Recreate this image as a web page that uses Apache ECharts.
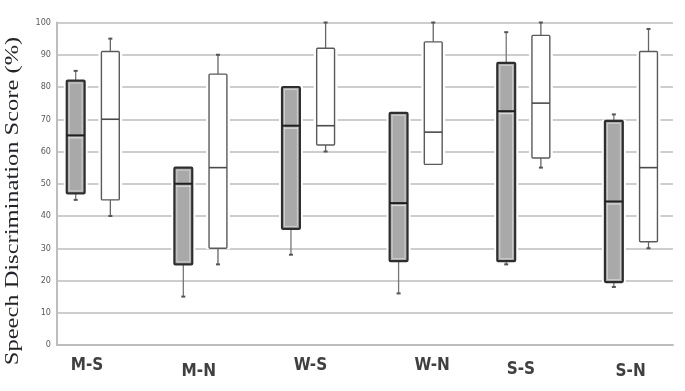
<!DOCTYPE html>
<html>
<head>
<meta charset="utf-8">
<script src="https://cdn.jsdelivr.net/npm/echarts@6/dist/echarts.min.js"></script>
<style>html,body{margin:0;padding:0;background:#fff}#c{width:685px;height:391px}</style>
</head>
<body>
<div id="c"></div>
<script>
var categories = ['M-S', 'M-N', 'W-S', 'W-N', 'S-S', 'S-N'];
// [min, Q1, median, Q3, max] per category
var grayStats = [
  [45, 47, 65, 82, 85],
  [15, 25, 50, 55, 55],
  [28, 36, 68, 80, 80],
  [16, 26, 44, 72, 72],
  [25, 26, 72.5, 87.5, 97],
  [18, 19.5, 44.5, 69.5, 71.5]
];
var whiteStats = [
  [40, 45, 70, 91, 95],
  [25, 30, 55, 84, 90],
  [60, 62, 68, 92, 100],
  [56, 56, 66, 94, 100],
  [55, 58, 75, 96, 100],
  [30, 32, 55, 91, 98]
];
var yTicks = [0, 10, 20, 30, 40, 50, 60, 70, 80, 90, 100];
var yTitle = 'Speech Discrimination Score (%)';

// per-label nudges (dx, dy) in px to mimic hand placement
var labelNudge = [[0, 0], [3, 3], [6, 0], [19, -1], [-1, 2], [0, 3]];

function toData(stats) {
  return categories.map(function (c, i) { return [i].concat(stats[i]); });
}

function makeRender(side, filled) {
  return function (params, api) {
    var cat = api.value(0);
    var band = api.size([1, 0])[0];
    var cx = api.coord([cat, 0])[0] + side * band * 0.161;
    var w = band * 0.166;
    var x0 = cx - w / 2;
    var yMin = api.coord([cat, api.value(1)])[1];
    var yQ1 = api.coord([cat, api.value(2)])[1];
    var yMed = api.coord([cat, api.value(3)])[1];
    var yQ3 = api.coord([cat, api.value(4)])[1];
    var yMax = api.coord([cat, api.value(5)])[1];
    var wc = filled ? '#777' : '#666';
    var ch = [];
    ch.push({type: 'rect', shape: {x: x0 - 3, y: yQ3 - 1, width: w + 6, height: yQ1 - yQ3 + 2}, style: {fill: '#fff'}});
    if (yMax < yQ3 - 0.5) {
      ch.push({type: 'line', shape: {x1: cx, y1: yQ3, x2: cx, y2: yMax}, style: {stroke: wc, lineWidth: 1.3}});
      ch.push({type: 'line', shape: {x1: cx - 2, y1: yMax, x2: cx + 2, y2: yMax}, style: {stroke: '#555', lineWidth: 2}});
    }
    if (yMin > yQ1 + 0.5) {
      ch.push({type: 'line', shape: {x1: cx, y1: yQ1, x2: cx, y2: yMin}, style: {stroke: wc, lineWidth: 1.3}});
      ch.push({type: 'line', shape: {x1: cx - 2, y1: yMin, x2: cx + 2, y2: yMin}, style: {stroke: '#555', lineWidth: 2}});
    }
    if (filled) {
      ch.push({type: 'rect', shape: {x: x0, y: yQ3, width: w, height: yQ1 - yQ3, r: 1}, style: {fill: '#a9a9a9', stroke: '#2e2e2e', lineWidth: 2.2}});
      ch.push({type: 'rect', shape: {x: x0 + 2.5, y: yQ3 + 2.5, width: w - 5, height: yQ1 - yQ3 - 5}, style: {fill: 'none', stroke: '#d8d8d8', lineWidth: 0.8}});
      ch.push({type: 'line', shape: {x1: x0, y1: yMed, x2: x0 + w, y2: yMed}, style: {stroke: '#1e1e1e', lineWidth: 2}});
      ch.push({type: 'line', shape: {x1: x0 + 2, y1: yMed + 2.5, x2: x0 + w - 2, y2: yMed + 2.5}, style: {stroke: '#e4e4e4', lineWidth: 1}});
    } else {
      ch.push({type: 'rect', shape: {x: x0, y: yQ3, width: w, height: yQ1 - yQ3, r: 1}, style: {fill: '#fff', stroke: '#5a5a5a', lineWidth: 1.4}});
      ch.push({type: 'line', shape: {x1: x0, y1: yMed, x2: x0 + w, y2: yMed}, style: {stroke: '#4a4a4a', lineWidth: 1.6}});
    }
    return {type: 'group', children: ch};
  };
}

var rich = {};
labelNudge.forEach(function (n, i) {
  var dx = n[0], dy = n[1];
  rich['l' + i] = {
    fontFamily: 'Liberation Sans Narrow, DejaVu Sans Condensed, Arial Narrow, sans-serif',
    fontWeight: 'bold', fontSize: 17, color: '#404040',
    padding: [Math.max(0, 2 * dy), Math.max(0, -2 * dx), Math.max(0, -2 * dy), Math.max(0, 2 * dx)]
  };
});

var chart = echarts.init(document.getElementById('c'), null, {renderer: 'canvas'});
chart.setOption({
  animation: false,
  backgroundColor: '#fff',
  graphic: [{
    type: 'text', x: 13, y: 201, rotation: Math.PI / 2, scaleX: 1.36,
    style: {text: yTitle, font: '18px "Liberation Serif", serif', fill: '#23232b', align: 'center', verticalAlign: 'middle'}
  }],
  grid: [
    {left: 57, right: 12, top: 22.5, bottom: 46},
    {left: 39.2, right: -5.8, top: 22.5, bottom: 46},
    {left: 32.7, right: -11.3, top: 22.5, bottom: 46}
  ],
  xAxis: [
    {gridIndex: 0, type: 'category', data: categories, axisLine: {show: true, lineStyle: {color: '#bdbdbd', width: 2}}, axisTick: {show: false}, axisLabel: {show: false}, splitLine: {show: false}},
    {gridIndex: 1, type: 'category', data: categories, show: false},
    {gridIndex: 2, type: 'category', data: categories, axisLine: {show: false}, axisTick: {show: false}, splitLine: {show: false},
      axisLabel: {margin: 12, interval: 0, rich: rich, formatter: function (v, i) { return '{l' + i + '|' + v + '}'; }}}
  ],
  yAxis: [
    {gridIndex: 0, type: 'value', min: yTicks[0], max: yTicks[yTicks.length - 1], interval: yTicks[1] - yTicks[0],
      axisLine: {show: true, lineStyle: {color: '#bdbdbd', width: 2}}, axisTick: {show: false},
      axisLabel: {margin: 6, fontSize: 9, color: '#5a5a5a', fontFamily: 'DejaVu Sans Condensed, sans-serif'},
      splitLine: {show: true, lineStyle: {color: '#cdcdcd', width: 2}}},
    {gridIndex: 1, type: 'value', min: 0, max: 100, show: false},
    {gridIndex: 2, type: 'value', min: 0, max: 100, show: false}
  ],
  series: [
    {type: 'custom', xAxisIndex: 1, yAxisIndex: 1, renderItem: makeRender(-1, true), encode: {x: 0, y: [1, 2, 3, 4, 5]}, data: toData(grayStats), z: 3},
    {type: 'custom', xAxisIndex: 1, yAxisIndex: 1, renderItem: makeRender(1, false), encode: {x: 0, y: [1, 2, 3, 4, 5]}, data: toData(whiteStats), z: 3}
  ]
});
</script>
</body>
</html>
